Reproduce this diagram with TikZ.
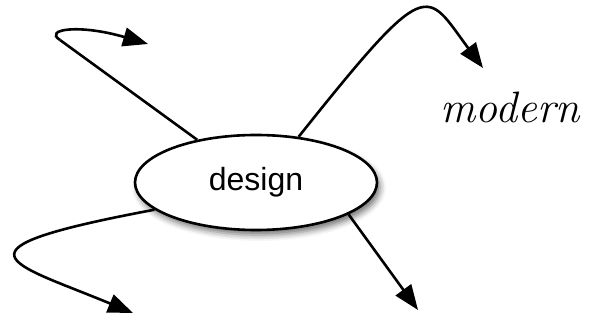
\documentclass[tikz,border=0pt]{standalone}
\usepackage{fontspec}
\setmainfont{Liberation Sans}
\newfontfamily\lmitalic{Latin Modern Roman}
\usetikzlibrary{arrows.meta,shapes.geometric,shadows.blur}
\tikzset{
  wire/.style={line width=2.6pt},
  conn/.style={wire,-{Triangle[length=25pt,width=19pt]}},
  bubble/.style={ellipse,draw,line width=2.6pt,fill=white,minimum width=242pt,minimum height=95pt,inner sep=0pt,
    blur shadow={shadow xshift=3pt,shadow yshift=-5pt,shadow blur radius=6pt,shadow opacity=55},
    font=\fontsize{32}{38}\selectfont},
  label/.style={font=\lmitalic\itshape\fontsize{44}{52}\selectfont,anchor=base,inner sep=0pt}
}
\begin{document}
\begin{tikzpicture}[x=1pt,y=-1pt]
\useasboundingbox (0,0) rectangle (602,320);
\node[bubble] (design) at (256,182.5) {design};
\node[label] (modern) at (510,123) {modern};
\coordinate (tl) at (148,44);
\coordinate (tr) at (483,68);
\coordinate (bl) at (133,313);
\coordinate (br) at (418,310);
\coordinate (tlbend) at (60,40);
\draw[wire] (design.144.3) -- (tlbend);
\draw[conn] (tlbend) .. controls (43,29) and (80,24) .. (tl);
\draw[conn] (design.47.5) .. controls (430,-28) and (425,-10) .. (tr);
\draw[conn] (design.195.4) .. controls (-60,250) and (10,262) .. (bl);
\draw[conn] (design.341.9) -- (br);
\end{tikzpicture}
\end{document}
